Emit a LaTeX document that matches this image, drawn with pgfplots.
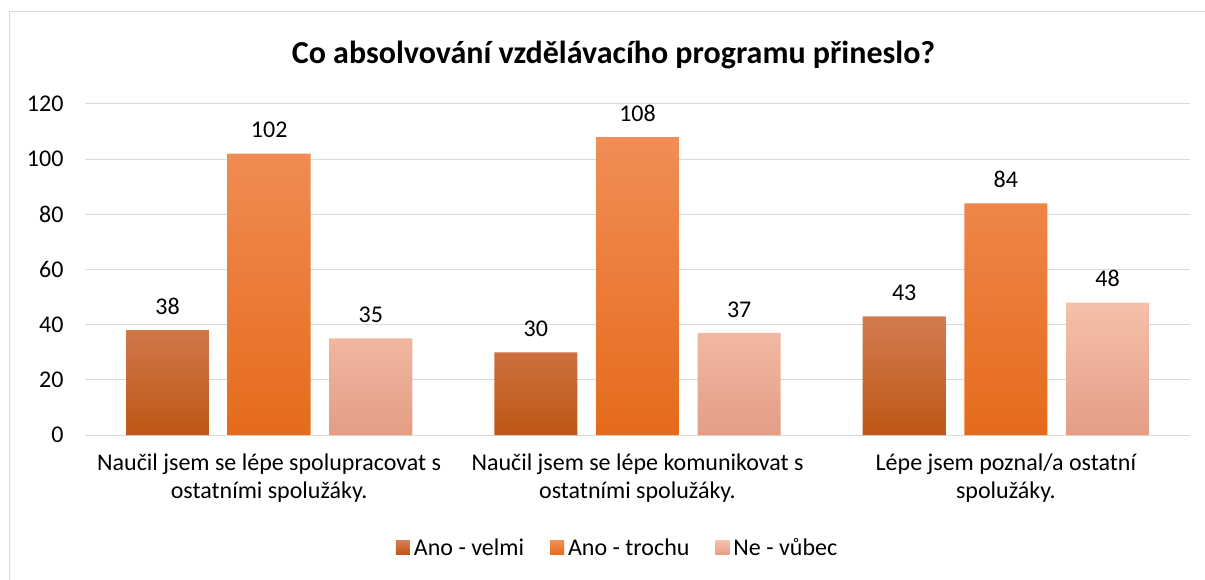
\documentclass[border=0pt]{standalone}
\usepackage{pgfplots}
\pgfplotsset{compat=1.18}
\usepackage{fontspec}
\setmainfont{Carlito}
\definecolor{gridc}{RGB}{217,217,217}
\definecolor{d1}{RGB}{210,124,80}
\definecolor{d2}{RGB}{190,86,22}
\definecolor{m1}{RGB}{241,141,86}
\definecolor{m2}{RGB}{229,107,27}
\definecolor{l1}{RGB}{245,192,170}
\definecolor{l2}{RGB}{228,157,133}
\begin{document}
\begin{tikzpicture}
\useasboundingbox (0,0) rectangle (1205pt,-580pt);
\fill[white] (0,0) rectangle (1205pt,-580pt);
\draw[gridc, line width=1pt] (9pt,-580pt) -- (9pt,-12pt) -- (1205pt,-12pt);
\node[anchor=base, font=\fontsize{32}{38}\selectfont\bfseries] at (613.5pt,-64pt) {Co absolvování vzdělávacího programu přineslo?};
\begin{axis}[
  at={(85pt,-435pt)}, anchor=south west,
  scale only axis, width=1105pt, height=331pt,
  ybar,
  xmin=-0.5, xmax=2.5, ymin=0, ymax=120,
  ytick={0,20,...,120},
  xtick={0,1,2},
  xticklabels={{Naučil jsem se lépe spolupracovat s\\ostatními spolužáky.},{Naučil jsem se lépe komunikovat s\\ostatními spolužáky.},{Lépe jsem poznal/a ostatní\\spolužáky.}},
  xticklabel style={align=center, font=\fontsize{24}{28}\selectfont, text=black, yshift=-15pt},
  yticklabel style={font=\fontsize{24}{27}\selectfont, text=black, xshift=-18pt},
  /pgf/number format/assume math mode=true,
  major tick length=0pt,
  ymajorgrids, grid style={gridc, line width=1pt},
  axis lines*=left,
  y axis line style={draw=none},
  x axis line style={gridc, line width=1pt, -},
  bar width=0.225,
  nodes near coords,
  every node near coord/.append style={font=\fontsize{24}{27}\selectfont, text=black, yshift=12pt},
  legend columns=3,
  legend style={at={(0.482,-0.341)}, anchor=center, draw=none, fill=none,
    font=\fontsize{24}{27}\selectfont, text=black,
    /tikz/every odd column/.append style={column sep=2pt},
    /tikz/every even column/.append style={column sep=24pt}},
  legend image code/.code={\path[#1] (0pt,-7pt) rectangle (14pt,7pt);},
  clip=false,
]
\addplot[bar shift=-0.276, draw=none, top color=d1, bottom color=d2] coordinates {(0,38) (1,30) (2,43)};
\addplot[bar shift=0, draw=none, top color=m1, bottom color=m2] coordinates {(0,102) (1,108) (2,84)};
\addplot[bar shift=0.276, draw=none, top color=l1, bottom color=l2] coordinates {(0,35) (1,37) (2,48)};
\legend{Ano - velmi, Ano - trochu, Ne - vůbec}
\end{axis}
\end{tikzpicture}
\end{document}
